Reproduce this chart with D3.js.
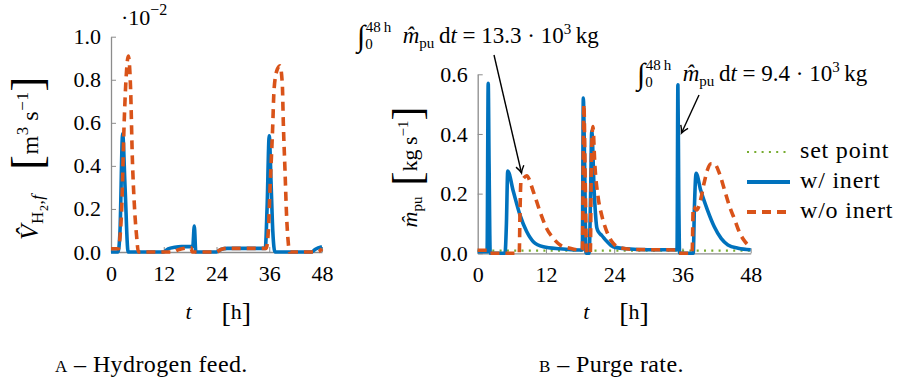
<!DOCTYPE html>
<html>
<head>
<meta charset="utf-8">
<script src="https://cdn.jsdelivr.net/npm/d3@7"></script>
<style>
body { margin: 0; background: #fff; }
svg text { font-family: "Liberation Serif", serif; fill: #000; }
</style>
</head>
<body>
<div id="chart"></div>
<script>
// time axis shared by both panels [h]
var timeTicks = [0, 12, 24, 36, 48];
var feedTicks = [0, 0.2, 0.4, 0.6, 0.8, 1.0];
var purgeTicks = [0, 0.2, 0.4, 0.6];

// (a) hydrogen feed, in 1e-2 m3/s
var feedTimeInert = [0, 1.6, 2.05, 2.65, 3.2, 3.9, 11.9, 13.0, 14.5, 16.0, 18.6, 18.95, 19.3, 24.0, 25.0, 26.5, 35.1, 35.5, 36.0, 36.4, 36.8, 37.3, 45.6, 46.5, 48];
var feedRateInert = [0, 0, 0.1, 0.55, 0.3, 0, 0, 0.015, 0.022, 0.025, 0.025, 0.12, 0, 0, 0.012, 0.017, 0.017, 0.2, 0.54, 0.33, 0.1, 0, 0, 0.013, 0.024];
var feedTimeNoInert = [0, 1.7, 2.05, 2.43, 2.96, 3.41, 3.94, 4.47, 4.85, 5.31, 5.84, 6.22, 14.0, 15.5, 18.2, 18.5, 24.0, 25.0, 26.5, 35.3, 35.8, 36.17, 36.78, 37.08, 37.69, 38.44, 38.97, 39.2, 39.58, 39.96, 40.34, 40.57, 47.0, 48];
var feedRateNoInert = [0.015, 0.015, 0.07, 0.2, 0.58, 0.8, 0.91, 0.75, 0.44, 0.22, 0.07, 0, 0, 0.012, 0.02, 0, 0, 0.012, 0.017, 0.017, 0.1, 0.29, 0.58, 0.75, 0.84, 0.865, 0.78, 0.6, 0.38, 0.16, 0.04, 0, 0, 0.015];

// (b) purge rate, kg/s
var purgeTimeInert = [0, 1.65, 1.85, 2.0, 2.2, 4.8, 5.05, 5.28, 6.27, 7.44, 8.61, 9.78, 11.54, 14.47, 18.0, 18.4, 18.57, 18.8, 19.05, 19.6, 19.85, 20.05, 20.5, 20.95, 21.3, 21.8, 22.7, 23.8, 26.2, 30.0, 35.05, 35.2, 35.35, 35.5, 37.9, 38.1, 38.4, 39.2, 40.4, 41.6, 42.8, 44.0, 45.8, 48];
var purgeRateInert = [0.005, 0.005, 0.57, 0.3, 0, 0, 0.1, 0.276, 0.207, 0.128, 0.073, 0.039, 0.022, 0.015, 0.011, 0.011, 0.52, 0.3, 0, 0, 0.2, 0.41, 0.2, 0.085, 0.07, 0.06, 0.04, 0.022, 0.015, 0.012, 0.012, 0.565, 0.2, 0, 0, 0.15, 0.268, 0.212, 0.145, 0.089, 0.05, 0.028, 0.017, 0.012];
var purgeTimeNoInert = [0, 1.6, 1.75, 7.3, 7.45, 7.6, 8.0, 8.6, 9.78, 10.95, 12.1, 13.3, 14.5, 16.2, 18.0, 18.4, 18.67, 18.9, 19.15, 19.8, 19.98, 20.25, 20.6, 21.2, 21.8, 22.7, 23.8, 25.0, 27.4, 35.1, 35.4, 37.7, 37.9, 38.5, 39.2, 39.8, 40.4, 41.0, 41.6, 42.5, 43.4, 44.3, 45.2, 46.1, 47.0, 48];
var purgeRateNoInert = [0.01, 0.01, 0, 0, 0.15, 0.24, 0.25, 0.26, 0.207, 0.14, 0.084, 0.05, 0.028, 0.017, 0.011, 0.011, 0.5, 0.25, 0, 0, 0.3, 0.425, 0.296, 0.184, 0.128, 0.073, 0.034, 0.019, 0.013, 0.011, 0, 0, 0.156, 0.145, 0.18, 0.235, 0.28, 0.3, 0.3, 0.268, 0.212, 0.156, 0.112, 0.067, 0.039, 0.02];
var setPointTime = [0, 48];
var setPointRate = [0.009, 0.009];

var legendLabels = ["set point", "w/ inert", "w/o inert"];

var blue = "#0072BD", orange = "#D95319", green = "#77AC30", grey = "#8c8c8c";

var svg = d3.select("#chart").append("svg")
  .attr("width", 899)
  .attr("height", 380);

function zip(t, v) { return t.map(function(d, i) { return [d, v[i]]; }); }

// mixed size / sub / superscript text
function rich(parent, segs) {
  var t = parent.append("text");
  var cur = 0;
  segs.forEach(function(s) {
    var up = s.up || 0;
    var sp = t.append("tspan").text(s.s).attr("dy", cur - up);
    cur = up;
    if (s.size) sp.attr("font-size", s.size);
    if (s.it) sp.attr("font-style", "italic");
    if (s.dx) sp.attr("dx", s.dx);
  });
  return t;
}

function panel(x, y, yTicks, series) {
  var g = svg.append("g");
  var line = d3.line().x(function(d) { return x(d[0]); }).y(function(d) { return y(d[1]); }).curve(d3.curveMonotoneX);

  var ax = g.append("g").attr("transform", "translate(0," + y.range()[0] + ")")
    .call(d3.axisBottom(x).tickValues(timeTicks).tickSize(-5).tickSizeOuter(0).tickPadding(13));
  var ay = g.append("g").attr("transform", "translate(" + x.range()[0] + ",0)")
    .call(d3.axisLeft(y).tickValues(yTicks).tickFormat(d3.format(".1f")).tickSize(-5).tickSizeOuter(0).tickPadding(10));
  [ax, ay].forEach(function(a) {
    a.select(".domain").attr("stroke", grey).attr("stroke-width", 1.3);
    a.selectAll(".tick line").attr("stroke", grey).attr("stroke-width", 1);
    a.selectAll(".tick text").attr("font-family", "Liberation Serif").attr("font-size", 22).attr("fill", "#000");
  });

  series.forEach(function(s) {
    g.append("path")
      .datum(s.data)
      .attr("d", line)
      .attr("fill", "none")
      .attr("stroke", s.color)
      .attr("stroke-width", s.width)
      .attr("stroke-dasharray", s.dash)
      .attr("stroke-linejoin", "round");
  });

  // t [h]
  var xl = x.range()[0] + (x.range()[1] - x.range()[0]) / 2;
  rich(g, [{s: "t", it: true}]).attr("x", xl - 31).attr("y", 319).attr("font-size", 22);
  rich(g, [{s: "[", size: 28, up: -3}, {s: "h"}, {s: "]", size: 28, up: -3}]).attr("x", xl + 5).attr("y", 319).attr("font-size", 22);
  return g;
}

// (a) hydrogen feed
var xa = d3.scaleLinear().domain([0, 48]).range([111, 322]);
var ya = d3.scaleLinear().domain([0, 1]).range([252, 36.7]);
panel(xa, ya, feedTicks, [
  {data: zip(feedTimeInert, feedRateInert), color: blue, width: 3.6, dash: null},
  {data: zip(feedTimeNoInert, feedRateNoInert), color: orange, width: 3.6, dash: "9,6"}
]);
rich(svg, [{s: "·10"}, {s: "−2", size: 16, up: 10}]).attr("x", 121).attr("y", 25).attr("font-size", 22);
rich(svg.append("g").attr("transform", "translate(38,158) rotate(-90)"), [
  {s: "V\u0302", it: true, size: 25}, {s: "H", size: 17, up: -5}, {s: "2", size: 12, up: -10}, {s: ",", size: 17, up: -5},
  {s: "f", size: 17, up: -5, it: true}, {s: "\u2003"}, {s: "[", size: 44, up: -4}, {s: "m"}, {s: "3", size: 17, up: 10},
  {s: "\u2009s"}, {s: "−1", size: 17, up: 10}, {s: "]", size: 44, up: -4}
]).attr("text-anchor", "middle").attr("font-size", 24).attr("letter-spacing", 0.6);

// (b) purge rate
var xb = d3.scaleLinear().domain([0, 48]).range([477.7, 750.7]);
var yb = d3.scaleLinear().domain([0, 0.6]).range([253.3, 74.3]);
panel(xb, yb, purgeTicks, [
  {data: zip(setPointTime, setPointRate), color: green, width: 2.2, dash: "2,5.3"},
  {data: zip(purgeTimeInert, purgeRateInert), color: blue, width: 3.6, dash: null},
  {data: zip(purgeTimeNoInert, purgeRateNoInert), color: orange, width: 3.6, dash: "9,6"}
]);
rich(svg.append("g").attr("transform", "translate(417,167) rotate(-90)"), [
  {s: "m\u0302", it: true}, {s: "pu", size: 15, up: -5}, {s: "\u2002"}, {s: "[", size: 42, up: -4},
  {s: "kg\u2009s"}, {s: "−1", size: 15, up: 9}, {s: "]", size: 42, up: -4}
]).attr("text-anchor", "middle").attr("font-size", 22);

// legend
var legendColors = [green, blue, orange];
var legendDash = ["2,5.3", null, "9,6"];
var legendWidth = [2.2, 4, 4];
var lg = svg.append("g").selectAll("g").data(legendLabels).enter().append("g")
  .attr("transform", function(d, i) { return "translate(747," + (152 + i * 30) + ")"; });
lg.append("line").attr("x1", 0).attr("x2", 43)
  .attr("stroke", function(d, i) { return legendColors[i]; })
  .attr("stroke-width", function(d, i) { return legendWidth[i]; })
  .attr("stroke-dasharray", function(d, i) { return legendDash[i]; });
lg.append("text").attr("x", 53).attr("y", 6).attr("font-size", 24).attr("letter-spacing", 0.8).text(function(d) { return d; });

// integral annotations
svg.append("defs").append("marker")
  .attr("id", "arr").attr("viewBox", "-8 -5 10 10").attr("markerWidth", 10).attr("markerHeight", 10)
  .attr("markerUnits", "userSpaceOnUse").attr("orient", "auto")
  .append("path").attr("d", "M-7,-4 Q-3,-1 0,0 Q-3,1 -7,4").attr("fill", "none").attr("stroke", "#000").attr("stroke-width", 1.4);

function integral(val) {
  return [
    {s: "∫", size: 30, up: -3, it: true}, {s: "0", size: 15, up: -6}, {s: "48\u2009h", size: 15, up: 11, dx: -7},
    {s: "\u2002m\u0302", it: true}, {s: "pu", size: 15, up: -5}, {s: "\u2009d"}, {s: "t", it: true},
    {s: " = " + val + " · 10"}, {s: "3", size: 15, up: 9}, {s: "\u2009kg"}
  ];
}
rich(svg, integral("13.3")).attr("x", 357).attr("y", 43).attr("font-size", 23).attr("fill", orange);
rich(svg, integral("9.4")).attr("x", 637).attr("y", 81).attr("font-size", 23).attr("fill", blue);

svg.append("line").attr("x1", 494).attr("y1", 55).attr("x2", 521.5).attr("y2", 173)
  .attr("stroke", "#000").attr("stroke-width", 1.4).attr("marker-end", "url(#arr)");
svg.append("line").attr("x1", 699).attr("y1", 95).attr("x2", 681.5).attr("y2", 133)
  .attr("stroke", "#000").attr("stroke-width", 1.4).attr("marker-end", "url(#arr)");

// captions
rich(svg, [{s: "A", size: 17}, {s: " – Hydrogen feed."}]).attr("x", 55).attr("y", 372).attr("font-size", 24).attr("letter-spacing", 0.4);
rich(svg, [{s: "B", size: 17}, {s: " – Purge rate."}]).attr("x", 539).attr("y", 372).attr("font-size", 24).attr("letter-spacing", 0.4);
</script>
</body>
</html>
